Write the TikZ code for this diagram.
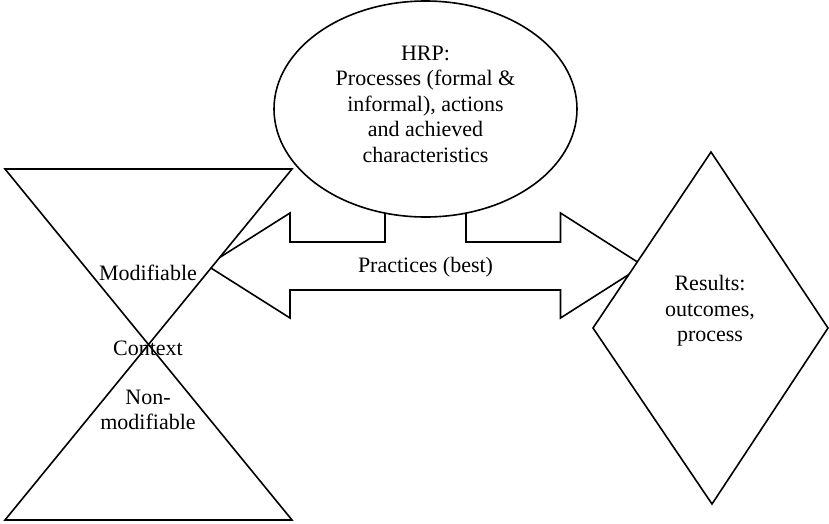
\documentclass[tikz,border=0pt]{standalone}
\usepackage{fontspec}
\setmainfont{Liberation Serif}
\begin{document}
\begin{tikzpicture}[x=1pt,y=-1pt,
  shapeline/.style={draw=black,line width=1.6pt,fill=white,line join=miter},
  lbl/.style={align=center,inner sep=0pt,font=\fontsize{22}{25.5}\selectfont}]
\useasboundingbox (0,0) rectangle (829,523);
% double arrow with stem up to the ellipse
\draw[shapeline] (207,265.5) -- (290,213) -- (290,242) -- (385,242) -- (385,190)
  -- (466,190) -- (466,242) -- (560.5,242) -- (560.5,213) -- (643,265.5)
  -- (560.5,318) -- (560.5,290) -- (290,290) -- (290,318) -- cycle;
% hourglass (context)
\draw[shapeline] (5,169) -- (292,169) -- (5,520) -- (292,520) -- cycle;
% diamond (results)
\draw[shapeline] (711,152) -- (828,328) -- (712,504) -- (593,328) -- cycle;
% ellipse (HRP)
\draw[shapeline] (425.5,109) ellipse [x radius=151.5, y radius=108];
% texts
\node[lbl] (hrp) at (425.5,104) {HRP:\\Processes (formal \&\\informal), actions\\and achieved\\characteristics};
\node[lbl] (prac) at (425.5,267) {Practices (best)};
\node[lbl] (mod) at (148,273) {Modifiable};
\node[lbl] (ctx) at (148,348) {Context};
\node[lbl] (nonmod) at (148,410) {Non-\\modifiable};
\node[lbl] (res) at (710,311) {Results:\\outcomes,\\process};
\end{tikzpicture}
\end{document}
